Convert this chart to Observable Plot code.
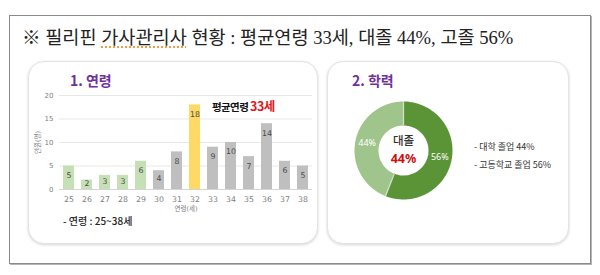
<!DOCTYPE html>
<html><head><meta charset="utf-8">
<script src="https://cdn.jsdelivr.net/npm/d3@7"></script>
<script src="https://cdn.jsdelivr.net/npm/@observablehq/plot@0.6"></script>
<style>
body{margin:0;width:600px;height:275px;background:#fff;position:relative;overflow:hidden;font-family:"Noto Sans CJK KR",sans-serif;}
.abs{position:absolute;white-space:nowrap;line-height:1;}
#outer{left:9px;top:15px;width:580px;height:247px;border:1px solid #8a8a8a;box-shadow:1px 1px 0 #b5b5b5;}
#title{left:22px;top:29px;font-size:18.6px;color:#222;font-family:"Liberation Serif","Noto Sans CJK KR",serif;}
#title u{text-decoration:underline dotted #e89a3c;text-underline-offset:3px;}
.card{border:1px solid #e3e3e3;border-radius:16px;box-shadow:0 1px 3px rgba(0,0,0,0.16);background:#fff;}
#c1{left:28px;top:61px;width:288px;height:181px;}
#c2{left:327px;top:61px;width:240px;height:181px;}
.ct{font-size:14px;font-weight:700;color:#7030A0;}
#bars{left:28px;top:88px;}
#donut{left:348px;top:95px;}
#note{left:212px;top:96px;font-weight:700;color:#111;}
#note .a{font-size:10.5px;letter-spacing:-0.6px;}
#note .b{font-size:12.5px;color:#e3161c;letter-spacing:-0.5px;}
#agenote{left:63px;top:216px;font-size:10px;font-weight:500;color:#222;}
.leg{font-size:9px;color:#333;left:474px;}
</style>
</head><body>
<div id="outer" class="abs"></div>
<div id="title" class="abs">※ 필리핀 <u>가사관리사</u> 현황 : 평균연령 33세, 대졸 44%, 고졸 56%</div>
<div id="c1" class="abs card"></div>
<div id="c2" class="abs card"></div>
<div class="abs ct" style="left:70px;top:73px;">1. 연령</div>
<div class="abs ct" style="left:352px;top:73px;">2. 학력</div>
<div id="bars" class="abs"></div>
<div id="donut" class="abs"></div>
<div id="note" class="abs"><span class="a">평균연령 </span><span class="b">33세</span></div>
<div id="agenote" class="abs">- 연령 : 25~38세</div>
<div class="abs leg" style="top:142px;">- 대학 졸업 44%</div>
<div class="abs leg" style="top:160px;">- 고등학교 졸업 56%</div>
<script>
// ---- data ----
const ages = ["25","26","27","28","29","30","31","32","33","34","35","36","37","38"];
const counts = [5,2,3,3,6,4,8,18,9,10,7,14,6,5];
const yTicks = [0,5,10,15,20];
const highlightAge = "32";
const eduLabels = ["대학 졸업","고등학교 졸업"];
const eduShort = ["대졸","고졸"];
const eduShares = [44,56];

// ---- bar chart ----
const rows = ages.map((a,i)=>({age:a, count:counts[i]}));
const barFill = d => d.age === highlightAge ? "#FFD966" : (+d.age < 30 ? "#C5E0B4" : "#BFBFBF");
const bars = Plot.plot({
  width:289, height:130, marginLeft:31, marginRight:5, marginTop:7, marginBottom:29,
  style:{fontFamily:"'DejaVu Sans','Noto Sans CJK KR',sans-serif", fontSize:"7.5px", color:"#7f7f7f", background:"transparent", overflow:"visible"},
  x:{domain:ages, paddingInner:0.39, paddingOuter:0.195},
  y:{domain:[0,20]},
  marks:[
    Plot.gridY(yTicks,{stroke:"#e8e8e8", strokeOpacity:1}),
    Plot.barY(rows,{x:"age", y:"count", fill:barFill}),
    Plot.ruleY([0],{stroke:"#d4d4d4"}),
    Plot.axisX({tickSize:0, tickPadding:7, label:null, fill:"#808080", fontSize:7.8}),
    Plot.axisY(yTicks,{tickSize:0, tickPadding:6, label:null, fill:"#808080", fontSize:7}),
    Plot.text(rows,{x:"age", y:d=>Math.max(d.count-2, d.count*0.6), text:"count", fill:"#4a4a4a", fontSize:7.8}),
    Plot.text(["연령(세)"],{frameAnchor:"bottom", lineAnchor:"middle", dy:19, fontSize:6.5, fill:"#808080"}),
    Plot.text(["인원(명)"],{frameAnchor:"left", textAnchor:"middle", lineAnchor:"middle", rotate:-90, dx:-22, fontSize:6.5, fill:"#808080"})
  ]
});
document.getElementById("bars").appendChild(bars);

// ---- donut ----
const edu = eduLabels.map((l,i)=>({label:l, short:eduShort[i], share:eduShares[i]}));
const pie = d3.pie().value(d=>d.share).sort((a,b)=>b.share-a.share)(edu);
const R0 = 25, R1 = 49, RM = (R0+R1)/2;
const arcPts = pie.flatMap(p => d3.range(0,61).map(k => {
  const a = p.startAngle + (p.endAngle-p.startAngle)*k/60;
  return {label:p.data.label, x:RM*Math.sin(a), y:RM*Math.cos(a)};
}));
const mid = p => (p.startAngle+p.endAngle)/2;
const donut = Plot.plot({
  width:110, height:110, margin:0,
  style:{fontFamily:"'Noto Sans CJK KR',sans-serif", background:"transparent", overflow:"visible"},
  x:{domain:[-55,55], axis:null},
  y:{domain:[-55,55], axis:null},
  color:{domain:eduLabels, range:["#a0c58c","#5a9436"]},
  marks:[
    Plot.line(arcPts,{x:"x", y:"y", z:"label", stroke:"label", strokeWidth:R1-R0, strokeLinecap:"butt", curve:"linear"}),
    Plot.link(pie,{x1:p=>R0*Math.sin(p.startAngle), y1:p=>R0*Math.cos(p.startAngle), x2:p=>R1*Math.sin(p.startAngle), y2:p=>R1*Math.cos(p.startAngle), stroke:"#cfe2c4", strokeWidth:1.3}),
    Plot.text(pie,{x:p=>RM*Math.sin(mid(p)), y:p=>RM*Math.cos(mid(p)), text:p=>p.data.share+"%", fill:"white", fontSize:9, fontFamily:"'Noto Sans',sans-serif"}),
    Plot.text([edu[0]],{frameAnchor:"middle", dy:-9, text:d=>d.short, fill:"#333", fontSize:11.5, fontWeight:500, letterSpacing:-0.8}),
    Plot.text([edu[0]],{frameAnchor:"middle", dy:8, text:d=>d.share+"%", fill:"#cc1010", fontSize:12.5, fontWeight:700, fontFamily:"'Noto Sans',sans-serif"})
  ]
});
document.getElementById("donut").appendChild(donut);
</script>
</body></html>
